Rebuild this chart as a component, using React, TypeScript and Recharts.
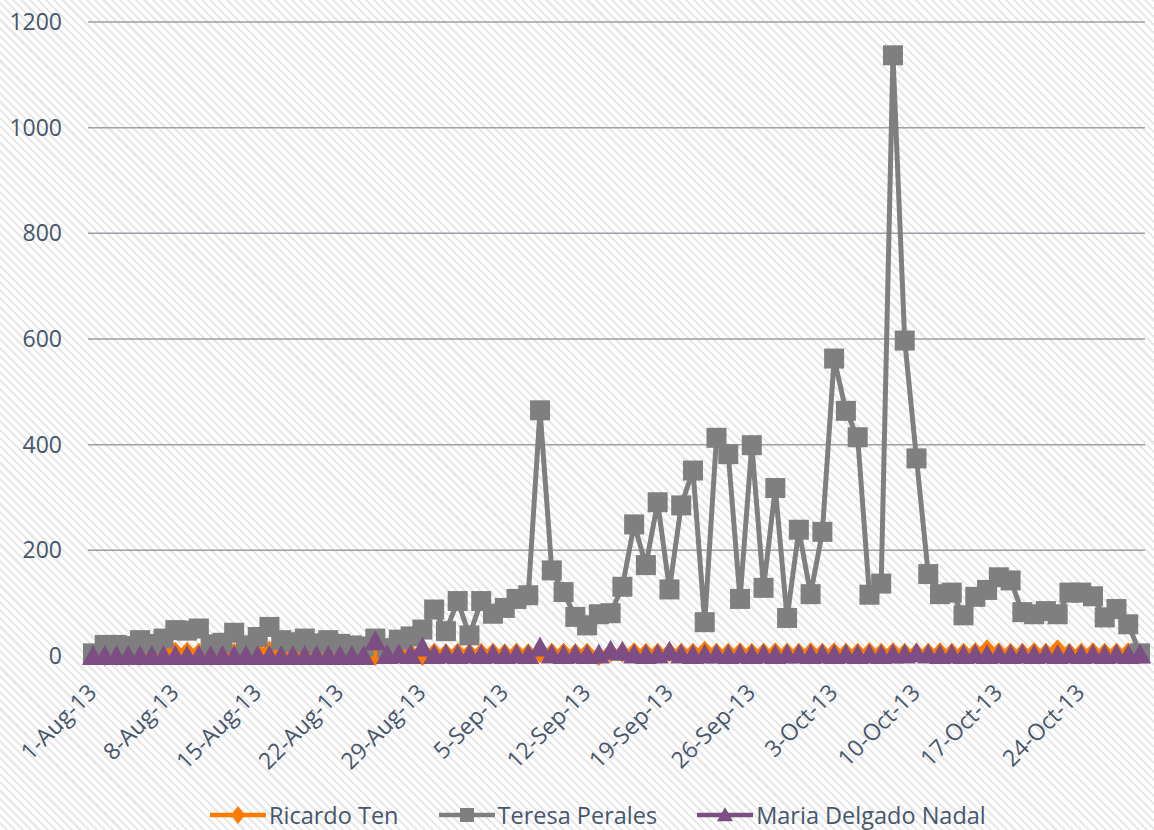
import { LineChart, Line, XAxis, YAxis, CartesianGrid, Legend } from 'recharts';

// daily categories 1-Aug-13 .. 29-Oct-13
const months: [string, number][] = [['Aug', 31], ['Sep', 30], ['Oct', 29]];
const dates: string[] = months.flatMap(([m, n]) => Array.from({ length: n }, (_, i) => `${i + 1}-${m}-13`));

const xTicks = ['1-Aug-13', '8-Aug-13', '15-Aug-13', '22-Aug-13', '29-Aug-13', '5-Sep-13', '12-Sep-13',
  '19-Sep-13', '26-Sep-13', '3-Oct-13', '10-Oct-13', '17-Oct-13', '24-Oct-13'];
const yTicks = [0, 200, 400, 600, 800, 1000, 1200];

const ricardoTen = [
  3, 0, 0, 0, 0, 2, 6, 8, 8, 6,
  0, 2, 6, 2, 8, 10, 6, 2, 2, 2,
  2, 2, 3, 2, 0, 4, 5, 5, 0, 6,
  5, 6, 5, 6, 6, 5, 6, 5, 5, 6,
  6, 5, 6, 0, 6, 6, 7, 6, 6, 7,
  6, 6, 10, 6, 6, 7, 6, 6, 7, 6,
  6, 7, 6, 7, 6, 6, 7, 6, 7, 6,
  6, 6, 7, 6, 6, 7, 13, 7, 6, 6,
  7, 6, 13, 6, 6, 7, 6, 6, 7, 4,
];

const teresaPerales = [
  5, 21, 21, 19, 30, 23, 33, 49, 48, 52,
  22, 25, 44, 20, 36, 55, 30, 26, 33, 24,
  30, 23, 20, 18, 33, 15, 31, 37, 50, 88,
  47, 104, 39, 104, 80, 91, 108, 115, 465, 162,
  121, 74, 58, 79, 81, 131, 249, 172, 291, 126,
  285, 351, 64, 413, 382, 108, 399, 129, 318, 72,
  239, 117, 235, 563, 464, 414, 116, 137, 1137, 597,
  374, 155, 117, 120, 77, 112, 125, 149, 143, 83,
  79, 85, 79, 120, 120, 113, 73, 89, 60, 5,
];

const mariaDelgadoNadal = [
  0, 0, 0, 0, 0, 0, 0, 0, 0, 0,
  0, 0, 0, 0, 0, 0, 0, 0, 0, 0,
  0, 0, 0, 0, 28, 2, 3, 2, 16, 2,
  3, 2, 3, 2, 3, 2, 3, 2, 16, 3,
  2, 3, 2, 3, 10, 8, 3, 2, 3, 8,
  3, 2, 3, 3, 2, 3, 2, 3, 2, 3,
  3, 2, 3, 2, 3, 2, 3, 2, 3, 3,
  5, 3, 2, 3, 2, 3, 2, 3, 2, 3,
  2, 3, 2, 3, 2, 3, 2, 3, 2, 3,
];

const data = dates.map((date, i) => ({
  date,
  ricardo: ricardoTen[i],
  teresa: teresaPerales[i],
  maria: mariaDelgadoNadal[i],
}));

const FONT = '"Open Sans", sans-serif';
const TEXT = '#46566b';
const ORANGE = '#ff7b00';
const GRAY = '#7f7f7f';
const PURPLE = '#7c4e84';

const diamond = (cx: number, cy: number, w: number, h: number, fill: string, key?: string) => (
  <polygon key={key} points={`${cx},${cy - h} ${cx + w},${cy} ${cx},${cy + h} ${cx - w},${cy}`} fill={fill} />
);
const square = (cx: number, cy: number, s: number, fill: string, key?: string) => (
  <rect key={key} x={cx - s / 2} y={cy - s / 2} width={s} height={s} fill={fill} />
);
const triangle = (cx: number, cy: number, w: number, h: number, fill: string, key?: string) => (
  <polygon key={key} points={`${cx},${cy - h * 0.55} ${cx + w / 2},${cy + h * 0.45} ${cx - w / 2},${cy + h * 0.45}`} fill={fill} />
);

const series = [
  { key: 'ricardo', name: 'Ricardo Ten', color: ORANGE },
  { key: 'teresa', name: 'Teresa Perales', color: GRAY },
  { key: 'maria', name: 'Maria Delgado Nadal', color: PURPLE },
];

function XTick(props: any) {
  const { x, y, payload } = props;
  const px = x + 5;
  const py = y + 30;
  return (
    <text x={px} y={py} textAnchor="end" fill={TEXT} fontSize={23} fontFamily={FONT}
      transform={`rotate(-45, ${px}, ${py})`}>
      {payload.value}
    </text>
  );
}

function LegendContent() {
  return (
    <div style={{ display: 'flex', alignItems: 'center', height: 30, paddingLeft: 210, fontFamily: FONT, fontSize: 23.5, color: TEXT }}>
      {series.map((s) => (
        <div key={s.key} style={{ display: 'flex', alignItems: 'center', marginRight: 40 }}>
          <svg width={56} height={24}>
            <line x1={0} y1={12} x2={56} y2={12} stroke={s.color} strokeWidth={4.5} strokeLinecap="round" />
            {s.key === 'ricardo' && diamond(28, 12, 7, 9, s.color)}
            {s.key === 'teresa' && square(28, 12, 14, s.color)}
            {s.key === 'maria' && triangle(28, 12, 16, 14, s.color)}
          </svg>
          <span style={{ marginLeft: 3, lineHeight: '30px', whiteSpace: 'nowrap' }}>{s.name}</span>
        </div>
      ))}
    </div>
  );
}

export default function App() {
  return (
    <div style={{
      position: 'absolute', left: 0, top: 0, width: 1154, height: 830,
      background: 'repeating-linear-gradient(45deg, #ffffff 0px, #ffffff 3.6px, #e8e8e8 3.6px, #e8e8e8 5.8px)',
    }}>
      <LineChart width={1154} height={830} data={data} margin={{ top: 22, right: 9, left: 0, bottom: 0 }}>
        <CartesianGrid vertical={false} stroke="#9ba1a7" strokeWidth={1.5} />
        <XAxis
          dataKey="date"
          ticks={xTicks}
          interval={0}
          axisLine={false}
          tickLine={false}
          height={144}
          padding={{ left: 5, right: 5 }}
          tick={(p: any) => <XTick {...p} />}
        />
        <YAxis
          domain={[0, 1200]}
          ticks={yTicks}
          axisLine={false}
          tickLine={false}
          width={88}
          tickMargin={20}
          tick={{ fill: TEXT, fontSize: 23, fontFamily: FONT }}
        />
        <Legend verticalAlign="bottom" content={() => <LegendContent />} />
        <Line
          type="linear"
          dataKey="ricardo"
          name="Ricardo Ten"
          stroke={ORANGE}
          strokeWidth={4.5}
          isAnimationActive={false}
          dot={(p: any) => diamond(p.cx, p.cy, 9, 10, ORANGE, `r-${p.index}`)}
          activeDot={false}
        />
        <Line
          type="linear"
          dataKey="teresa"
          name="Teresa Perales"
          stroke={GRAY}
          strokeWidth={5}
          isAnimationActive={false}
          dot={(p: any) => square(p.cx, p.cy, 20, GRAY, `t-${p.index}`)}
          activeDot={false}
        />
        <Line
          type="linear"
          dataKey="maria"
          name="Maria Delgado Nadal"
          stroke={PURPLE}
          strokeWidth={4.5}
          isAnimationActive={false}
          dot={(p: any) => triangle(p.cx, p.cy, 22, 20, PURPLE, `m-${p.index}`)}
          activeDot={false}
        />
      </LineChart>
    </div>
  );
}
